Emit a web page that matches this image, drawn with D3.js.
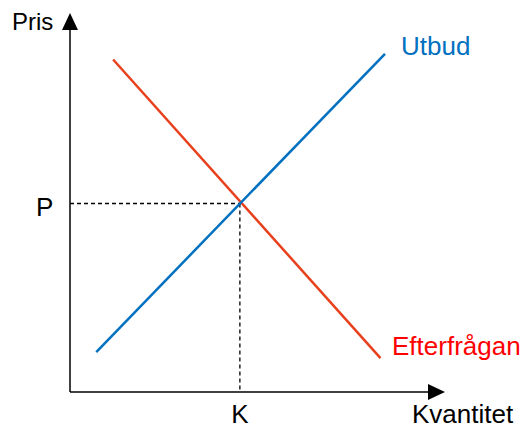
<!DOCTYPE html>
<html>
<head>
<meta charset="utf-8">
<script src="https://cdn.jsdelivr.net/npm/d3@7"></script>
<style>
  body { margin: 0; background: #fff; }
  text { font-family: "Liberation Sans", Arial, sans-serif; }
</style>
</head>
<body>
<div class="chart"></div>
<script>
// data in abstract units (quantity, price)
const supply = [{ q: 7, p: 10.5 }, { q: 84, p: 89 }];
const demand = [{ q: 11.5, p: 87.5 }, { q: 82.8, p: 8.9 }];
const equilibrium = { q: 45.3, p: 49.6 };
const axisLabels = { x: "Kvantitet", y: "Pris" };
const pointLabels = { q: "K", p: "P" };
const seriesLabels = { supply: "Utbud", demand: "Efterfrågan" };

const width = 526;
const height = 428;

const svg = d3
  .select(".chart")
  .append("svg")
  .attr("width", width)
  .attr("height", height);

const xScale = d3.scaleLinear().domain([0, 100]).range([70, 445]);
const yScale = d3.scaleLinear().domain([0, 100]).range([392, 12]);

const x0 = xScale(0);
const y0 = yScale(0);

// axes
svg.append("line")
  .attr("x1", x0).attr("y1", y0)
  .attr("x2", x0).attr("y2", 28)
  .attr("stroke", "black").attr("stroke-width", 1.5);
svg.append("path")
  .attr("d", `M${x0 - 8},30 L${x0},13 L${x0 + 8},30 Z`)
  .attr("fill", "black");

svg.append("line")
  .attr("x1", x0).attr("y1", y0)
  .attr("x2", 430).attr("y2", y0)
  .attr("stroke", "black").attr("stroke-width", 1.5);
svg.append("path")
  .attr("d", `M428,${y0 - 8} L445,${y0} L428,${y0 + 8} Z`)
  .attr("fill", "black");

// dashed guides
svg.append("line")
  .attr("x1", x0).attr("y1", yScale(equilibrium.p))
  .attr("x2", xScale(equilibrium.q)).attr("y2", yScale(equilibrium.p))
  .attr("stroke", "black").attr("stroke-width", 1.3)
  .attr("stroke-dasharray", "4,3");
svg.append("line")
  .attr("x1", xScale(equilibrium.q)).attr("y1", yScale(equilibrium.p))
  .attr("x2", xScale(equilibrium.q)).attr("y2", y0)
  .attr("stroke", "black").attr("stroke-width", 1.3)
  .attr("stroke-dasharray", "4,3");

const line = d3.line().x(d => xScale(d.q)).y(d => yScale(d.p));

svg.append("path")
  .datum(demand)
  .attr("d", line)
  .attr("fill", "none")
  .attr("stroke", "#E8401C")
  .attr("stroke-width", 2.5);

svg.append("path")
  .datum(supply)
  .attr("d", line)
  .attr("fill", "none")
  .attr("stroke", "#0070C0")
  .attr("stroke-width", 2.5);

// labels
svg.append("text").text(axisLabels.y)
  .attr("x", 12).attr("y", 30)
  .attr("font-size", 24).attr("fill", "black");
svg.append("text").text(axisLabels.x)
  .attr("x", 412).attr("y", 423)
  .attr("font-size", 26).attr("fill", "black");
svg.append("text").text(pointLabels.p)
  .attr("x", 36).attr("y", 216)
  .attr("font-size", 26).attr("fill", "black");
svg.append("text").text(pointLabels.q)
  .attr("x", xScale(equilibrium.q)).attr("y", 423)
  .attr("text-anchor", "middle")
  .attr("font-size", 26).attr("fill", "black");
svg.append("text").text(seriesLabels.supply)
  .attr("x", 401).attr("y", 55)
  .attr("font-size", 26).attr("fill", "#0070C0");
svg.append("text").text(seriesLabels.demand)
  .attr("x", 392).attr("y", 355)
  .attr("font-size", 26).attr("fill", "#FF0000");
</script>
</body>
</html>
